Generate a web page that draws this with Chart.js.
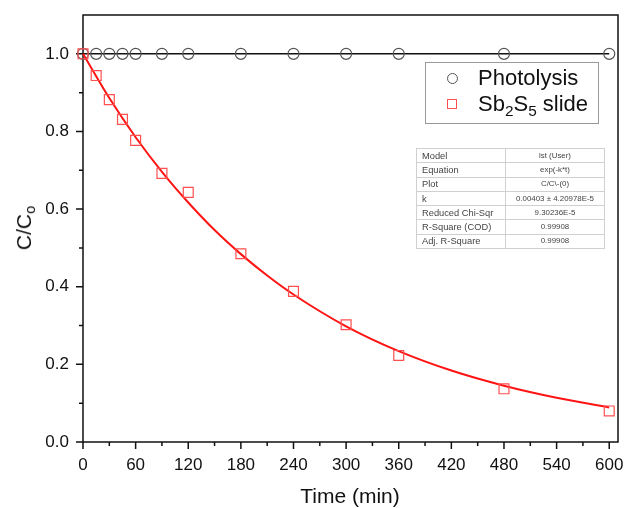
<!DOCTYPE html>
<html>
<head>
<meta charset="utf-8">
<script src="https://cdn.jsdelivr.net/npm/chart.js@4.4.1/dist/chart.umd.min.js"></script>
<style>
    body { margin: 0; background: #fff; font-family: 'Liberation Sans', Arial, sans-serif; }
    #wrap { position: relative; width: 627px; height: 508px; overflow: hidden; }
    canvas { position: absolute; left: 0; top: 0; }
    .ytitle { position: absolute; left: 24px; top: 228px; transform: translate(-50%, -50%) rotate(-90deg);
        font-size: 21px; color: #111; white-space: nowrap; }
    .xtitle { position: absolute; left: 350px; top: 496px; transform: translate(-50%, -50%);
        font-size: 21px; color: #111; white-space: nowrap; }
    sub { font-size: 0.7em; vertical-align: -0.3em; line-height: 0; }
    .legend { position: absolute; left: 425px; top: 62px; width: 172px; height: 60px;
        border: 1px solid #999; background: #fff; }
    .legend .row { position: absolute; left: 0; height: 26px; line-height: 26px; font-size: 22px; color: #111; }
    .legend .txt { position: absolute; left: 52px; white-space: nowrap; }
    .mk { position: absolute; left: 21px; top: 8px; width: 10px; height: 10px; box-sizing: border-box; }
    .mk.c { border: 1.3px solid #555; border-radius: 50%; width: 11px; height: 11px; }
    .mk.s { border: 1.3px solid #ff5050; }
    table.fit { position: absolute; left: 416px; top: 148px; width: 189px; border-collapse: collapse;
        color: #444; background: #fff; }
    table.fit td { border: 1px solid #d0d0d0; height: 13.3px; padding: 0 0 0 5px; white-space: nowrap;
        font-size: 9.3px; line-height: 12px; }
    table.fit td:last-child { text-align: center; font-size: 7.9px; padding: 0; }
    table.fit tr.sep td { border-top: 1.5px solid #999; }
</style>
</head>
<body>
<div id="wrap">
    <canvas id="chart" width="627" height="508"></canvas>
    <div class="ytitle">C/C<sub>o</sub></div>
    <div class="xtitle">Time (min)</div>
    <div class="legend">
        <div class="row" style="top:2px"><span class="mk c"></span><span class="txt">Photolysis</span></div>
        <div class="row" style="top:28px"><span class="mk s"></span><span class="txt">Sb<sub>2</sub>S<sub>5</sub> slide</span></div>
    </div>
    <table class="fit">
        <tr><td style="width:83px">Model</td><td>lst (User)</td></tr>
        <tr><td>Equation</td><td>exp(-k*t)</td></tr>
        <tr><td>Plot</td><td>C/C\-(0)</td></tr>
        <tr><td>k</td><td>0.00403 ± 4.20978E-5</td></tr>
        <tr class="sep"><td>Reduced Chi-Sqr</td><td>9.30236E-5</td></tr>
        <tr><td>R-Square (COD)</td><td>0.99908</td></tr>
        <tr><td>Adj. R-Square</td><td>0.99908</td></tr>
    </table>
</div>
<script>
// Данные
const times = [0, 15, 30, 45, 60, 90, 120, 180, 240, 300, 360, 480, 600];
const photolysis = [1, 1, 1, 1, 1, 1, 1, 1, 1, 1, 1, 1, 1];
const sb2s5 = [1.0, 0.944, 0.882, 0.831, 0.777, 0.692, 0.643, 0.485, 0.388, 0.302, 0.223, 0.137, 0.080];

// Кривая аппроксимации
const fitTimes = [0, 30, 60, 90, 120, 150, 180, 210, 240, 300, 360, 420, 480, 540, 600];
const fitValues = [1.0, 0.886, 0.785, 0.696, 0.617, 0.546, 0.484, 0.429, 0.380, 0.298, 0.234, 0.184, 0.145, 0.114, 0.089];

// Подписи осей
const xTicks = [0, 60, 120, 180, 240, 300, 360, 420, 480, 540, 600];
const yTicks = [0, 0.2, 0.4, 0.6, 0.8, 1.0];
const xMinor = [30, 90, 150, 210, 270, 330, 390, 450, 510, 570];
const yMinor = [0.1, 0.3, 0.5, 0.7, 0.9];

const toXY = (xs, ys) => xs.map((x, i) => ({ x: x, y: ys[i] }));

// Рамка и засечки
const framePlugin = {
    id: 'frame',
    beforeDatasetsDraw(chart) {
        const { ctx, chartArea: a, scales } = chart;
        ctx.save();
        ctx.strokeStyle = '#111';
        ctx.lineWidth = 1.5;
        ctx.strokeRect(a.left, a.top, a.right - a.left, a.bottom - a.top);
        ctx.beginPath();
        xTicks.concat(xMinor).forEach(v => {
            const px = scales.x.getPixelForValue(v);
            const len = xTicks.includes(v) ? 7 : 4;
            ctx.moveTo(px, a.bottom);
            ctx.lineTo(px, a.bottom + len);
        });
        yTicks.concat(yMinor).forEach(v => {
            const py = scales.y.getPixelForValue(v);
            const len = yTicks.includes(v) ? 7 : 4;
            ctx.moveTo(a.left, py);
            ctx.lineTo(a.left - len, py);
        });
        ctx.stroke();
        ctx.restore();
    }
};

const tickFont = { family: "'Liberation Sans', Arial, sans-serif", size: 17 };

new Chart(document.getElementById('chart'), {
    type: 'scatter',
    data: {
        datasets: [{
            label: 'Sb2S5 slide',
            data: toXY(times, sb2s5),
            showLine: false,
            pointStyle: 'rect',
            pointRadius: 7,
            pointBorderColor: '#ff5050',
            pointBackgroundColor: 'rgba(0,0,0,0)',
            pointBorderWidth: 1.2,
            clip: false
        }, {
            label: 'Fit',
            data: toXY(fitTimes, fitValues),
            showLine: true,
            borderColor: '#ff1414',
            borderWidth: 2,
            pointRadius: 0,
            cubicInterpolationMode: 'monotone',
            clip: false
        }, {
            label: 'Photolysis',
            data: toXY(times, photolysis),
            showLine: true,
            borderColor: '#111',
            borderWidth: 1.5,
            pointStyle: 'circle',
            pointRadius: 5.5,
            pointBorderColor: '#555',
            pointBackgroundColor: 'rgba(0,0,0,0)',
            pointBorderWidth: 1.2,
            clip: false
        }]
    },
    options: {
        responsive: false,
        animation: false,
        layout: { padding: { top: 15, right: 9, left: 0, bottom: 0 } },
        plugins: {
            legend: { display: false },
            tooltip: { enabled: false }
        },
        scales: {
            x: {
                type: 'linear',
                min: 0,
                max: 610,
                grid: { display: false, drawTicks: false },
                border: { display: false },
                afterBuildTicks: s => { s.ticks = xTicks.map(v => ({ value: v })); },
                afterFit: s => { s.height = 66; s.paddingLeft = 0; s.paddingRight = 0; },
                ticks: { font: tickFont, color: '#111', padding: 13, maxRotation: 0, autoSkip: false }
            },
            y: {
                min: 0,
                max: 1.1,
                grid: { display: false, drawTicks: false },
                border: { display: false },
                afterBuildTicks: s => { s.ticks = yTicks.map(v => ({ value: v })); },
                afterFit: s => { s.width = 83; s.paddingTop = 0; s.paddingBottom = 0; },
                ticks: { font: tickFont, color: '#111', padding: 14, callback: v => v.toFixed(1) }
            }
        }
    },
    plugins: [framePlugin]
});
</script>
</body>
</html>
